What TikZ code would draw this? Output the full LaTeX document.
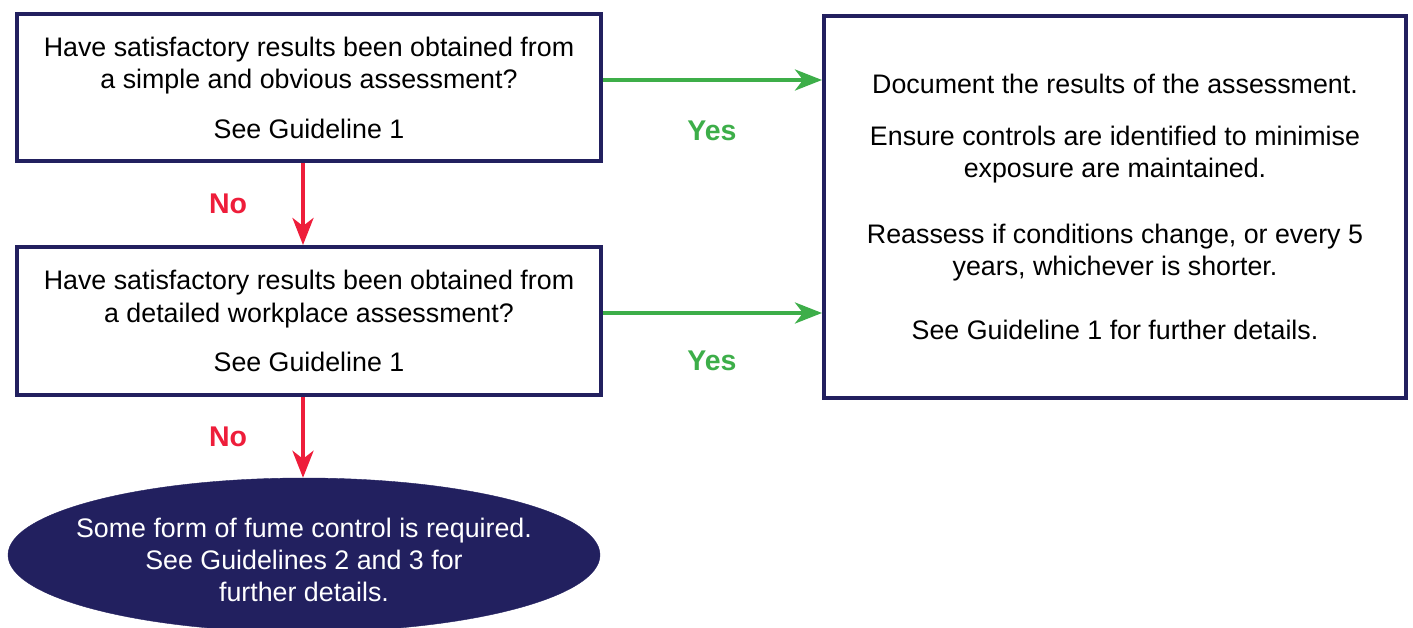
\documentclass[tikz,border=0pt]{standalone}
\usepackage{fontspec}
\setmainfont{Liberation Sans}
\usetikzlibrary{arrows.meta,shapes.geometric}
\definecolor{navy}{HTML}{22205F}
\definecolor{ygreen}{HTML}{3DAE49}
\definecolor{nred}{HTML}{EE1D3A}
\tikzset{
  box/.style={draw=navy,line width=4pt,fill=white,align=center,inner sep=0pt,
    font=\fontsize{26.8}{32.5}\selectfont},
  endnode/.style={ellipse,fill=navy,draw=navy,inner sep=0pt,
    minimum width=592pt,minimum height=154pt},
  endtext/.style={text=white,align=center,inner sep=0pt,font=\fontsize{26.8}{32}\selectfont},
  garrow/.style={draw=ygreen,line width=4pt,-{Stealth[length=27pt,width=21pt,inset=8pt]}},
  rarrow/.style={draw=nred,line width=4pt,-{Stealth[length=27pt,width=21pt,inset=8pt]}},
  yeslab/.style={text=ygreen,font=\fontsize{28.5}{30}\selectfont\bfseries},
  nolab/.style={text=nred,font=\fontsize{28.5}{30}\selectfont\bfseries}
}
\begin{document}
\begin{tikzpicture}[x=1pt,y=-1pt]
\clip (0,0) rectangle (1413,628);
\useasboundingbox (0,0) rectangle (1413,628);
\node[box,minimum width=584pt,minimum height=147pt] (q1) at (309,87.5)
  {Have satisfactory results been obtained from\\a simple and obvious assessment?\\[17pt]See Guideline 1};
\node[box,minimum width=584pt,minimum height=148pt] (q2) at (309,321)
  {Have satisfactory results been obtained from\\a detailed workplace assessment?\\[17pt]See Guideline 1};
\node[box,minimum width=582pt,minimum height=382pt] (res) at (1115,207)
  {Document the results of the assessment.\\[19pt]Ensure controls are identified to minimise\\exposure are maintained.\\[33pt]Reassess if conditions change, or every 5\\years, whichever is shorter.\\[31pt]See Guideline 1 for further details.};
\node[endnode] (concl) at (304,555) {};
\node[endtext] (concltext) at ([yshift=-5pt]concl.center)
  {Some form of fume control is required.\\See Guidelines 2 and 3 for\\further details.};
\draw[garrow] ([yshift=7.5pt]q1.east) -- ([yshift=7.5pt]q1.east -| res.west);
\draw[garrow] ([yshift=8pt]q2.east) -- ([yshift=8pt]q2.east -| res.west);
\draw[rarrow] ([xshift=-6pt]q1.south) -- ([xshift=-6pt]q1.south |- q2.north);
\draw[rarrow] ([xshift=-6pt]q2.south) -- ([xshift=-6pt]q2.south |- concl.north);
\node[yeslab] (yes1) at (712,131) {Yes};
\node[yeslab] (yes2) at (712,361) {Yes};
\node[nolab] (no1) at (228,204) {No};
\node[nolab] (no2) at (228,437) {No};
\end{tikzpicture}
\end{document}
